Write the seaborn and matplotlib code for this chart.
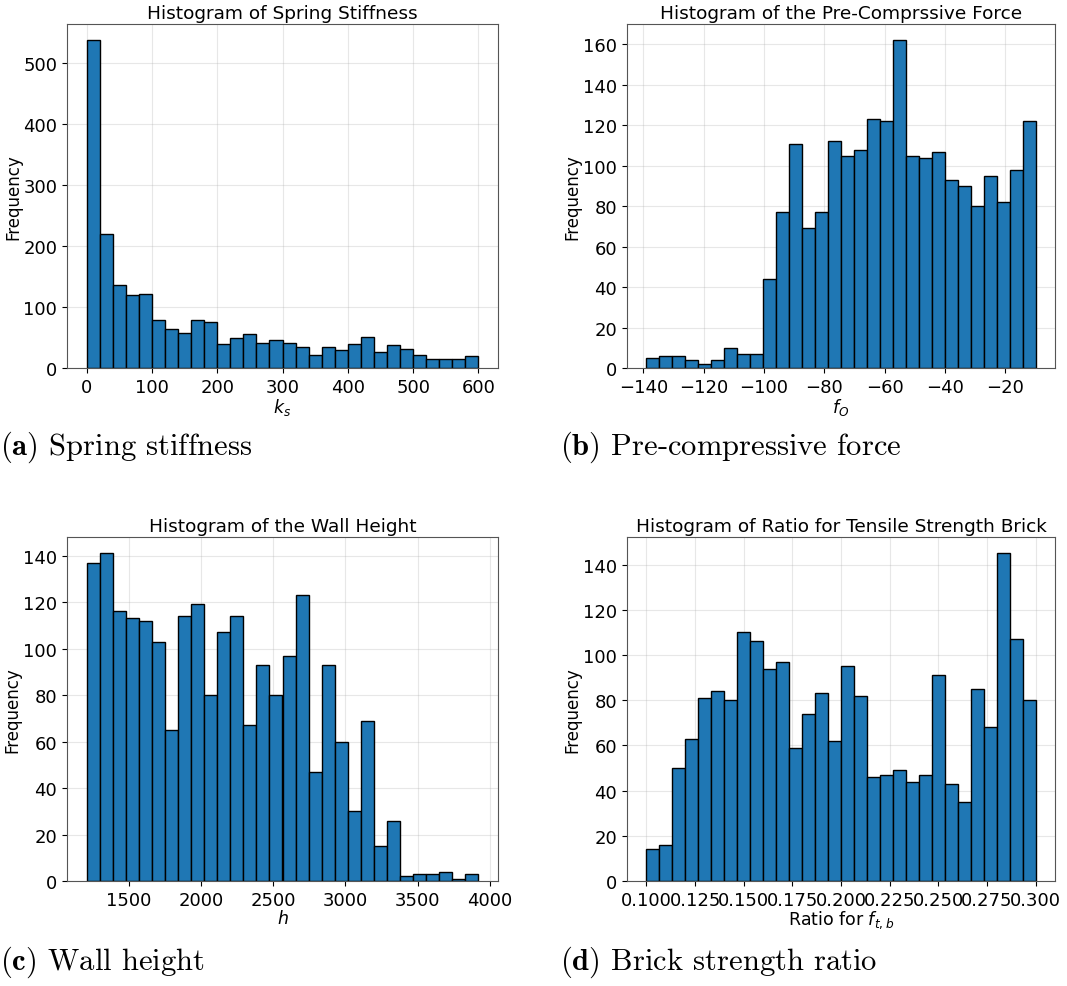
import numpy as np
import pandas as pd
import matplotlib
matplotlib.use("Agg")
import matplotlib.pyplot as plt
import matplotlib.ticker as mticker
import seaborn as sns

# Bin counts of the four sampled parameters (30 equal-width bins each)
stiffness_counts = [537, 219, 136, 120, 121, 78, 64, 57, 78, 76,
                    39, 49, 56, 41, 46, 41, 35, 21, 35, 29,
                    40, 51, 26, 37, 31, 21, 14, 14, 15, 20]
stiffness_range = (0.0, 600.0)

force_counts = [5, 6, 6, 4, 2, 4, 10, 7, 7, 44,
                77, 111, 69, 77, 112, 105, 108, 123, 122, 162,
                105, 104, 107, 93, 90, 80, 95, 82, 98, 122]
force_range = (-139.0, -10.0)

height_counts = [137, 141, 116, 113, 112, 103, 65, 114, 119, 80,
                 107, 114, 67, 93, 80, 97, 123, 47, 93, 60,
                 30, 69, 15, 26, 2, 3, 3, 4, 1, 3]
height_range = (1210.0, 3920.0)

ratio_counts = [14, 16, 50, 63, 81, 84, 80, 110, 106, 94,
                97, 59, 74, 83, 62, 95, 82, 46, 47, 49,
                44, 47, 91, 43, 35, 85, 68, 145, 107, 80]
ratio_range = (0.1, 0.3)

titles = ["Histogram of Spring Stiffness",
          "Histogram of the Pre-Comprssive Force",
          "Histogram of the Wall Height",
          "Histogram of Ratio for Tensile Strength Brick"]
xlabels = [r"$k_s$", r"$f_O$", r"$h$", r"Ratio for $f_{t,b}$"]
captions = [r"$\mathbf{(a)}$ Spring stiffness",
            r"$\mathbf{(b)}$ Pre-compressive force",
            r"$\mathbf{(c)}$ Wall height",
            r"$\mathbf{(d)}$ Brick strength ratio"]
# x tick spacing and label format for each panel
tick_steps = [100, 20, 500, 0.025]
tick_formats = [None, None, None, "%.3f"]

panels = [(stiffness_counts, stiffness_range),
          (force_counts, force_range),
          (height_counts, height_range),
          (ratio_counts, ratio_range)]

plt.rcParams["font.family"] = ["DejaVu Sans"]

W, H = 1067, 987
fig = plt.figure(figsize=(W / 100, H / 100), dpi=100)

# axes boxes in pixels: left, top, right, bottom
boxes = [(67, 25, 498, 369), (627, 25, 1055, 369),
         (67, 538, 498, 882), (627, 538, 1055, 882)]
caption_pos = [(0, 447), (560, 447), (0, 962), (560, 962)]

for i, ((counts, rng), box) in enumerate(zip(panels, boxes)):
    l, t, r, b = box
    ax = fig.add_axes([l / W, 1 - b / H, (r - l) / W, (b - t) / H])
    n = len(counts)
    edges = np.linspace(rng[0], rng[1], n + 1)
    df = pd.DataFrame({"value": 0.5 * (edges[:-1] + edges[1:]),
                       "count": counts})
    sns.histplot(data=df, x="value", weights="count", bins=n, binrange=rng,
                 ax=ax, color="#1f77b4", edgecolor="black", linewidth=1.0,
                 alpha=1.0)
    ax.set_title(titles[i], fontsize=13.3, pad=4)
    ax.set_xlabel(xlabels[i], fontsize=12.5, labelpad=0)
    ax.set_ylabel("Frequency", fontsize=12, labelpad=1)
    ax.tick_params(labelsize=13)
    ax.xaxis.set_major_locator(mticker.MultipleLocator(tick_steps[i]))
    if tick_formats[i]:
        ax.xaxis.set_major_formatter(mticker.FormatStrFormatter(tick_formats[i]))
    ax.grid(True, color="#b0b0b0", alpha=0.3, linewidth=0.8)
    ax.set_axisbelow(True)
    for s in ax.spines.values():
        s.set_color("#555555")
    cx, cy = caption_pos[i]
    fig.text(cx / W, 1 - cy / H, captions[i], fontsize=22,
             fontfamily="cmr10", math_fontfamily="cm", va="center", ha="left")

fig.savefig("out.png", dpi=100)
